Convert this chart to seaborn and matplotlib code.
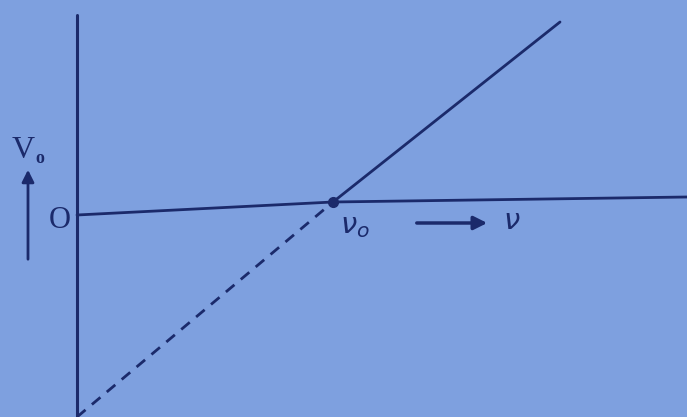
import numpy as np
import pandas as pd
import matplotlib.pyplot as plt
import seaborn as sns

# Stopping potential vs frequency (photoelectric effect), drawn in picture units
axis_v_x = [77, 77]
axis_v_y = [0, 402]
axis_h_x = [77, 333, 687]
axis_h_y = [202, 215, 220]
nu_solid = [333, 560]
v_solid = [215, 395]
nu_dash = [77, 333]
v_dash = [0, 215]
threshold = (333, 215)

bg = '#7ea0df'
ink = '#1b2a6b'

sns.set_style('white')
plt.rcParams['font.family'] = ['Liberation Serif', 'DejaVu Serif']

fig = plt.figure(figsize=(6.87, 4.17), dpi=100, facecolor=bg)
ax = fig.add_axes([0, 0, 1, 1])
ax.set_facecolor(bg)
ax.set_xlim(0, 687)
ax.set_ylim(0, 417)
ax.axis('off')

ax.plot(axis_v_x, axis_v_y, color=ink, lw=2.2)
sns.lineplot(x=axis_h_x, y=axis_h_y, ax=ax, color=ink, lw=2, sort=False, estimator=None)
sns.lineplot(x=nu_solid, y=v_solid, ax=ax, color=ink, lw=2, sort=False, estimator=None)
ax.plot(nu_dash, v_dash, color=ink, lw=2, ls=(0, (4, 3)))
ax.plot(*threshold, 'o', color=ink, ms=7)

ax.text(12, 267, 'V', fontsize=23, color=ink, va='center')
ax.text(35, 259, 'o', fontsize=13, color=ink, va='center', fontweight='bold')
ax.annotate('', xy=(28, 250), xytext=(28, 155),
            arrowprops=dict(arrowstyle='-|>', color=ink, lw=2, mutation_scale=18))
ax.text(49, 197, 'O', fontsize=22, color=ink, va='center')
ax.text(340, 190, r'$\nu_{o}$', fontsize=21, color=ink, va='center')
ax.annotate('', xy=(490, 194), xytext=(414, 194),
            arrowprops=dict(arrowstyle='-|>', color=ink, lw=2.5, mutation_scale=20))
ax.text(503, 195, r'$\nu$', fontsize=21, color=ink, va='center')

fig.savefig('out.png', dpi=100, facecolor=bg)
